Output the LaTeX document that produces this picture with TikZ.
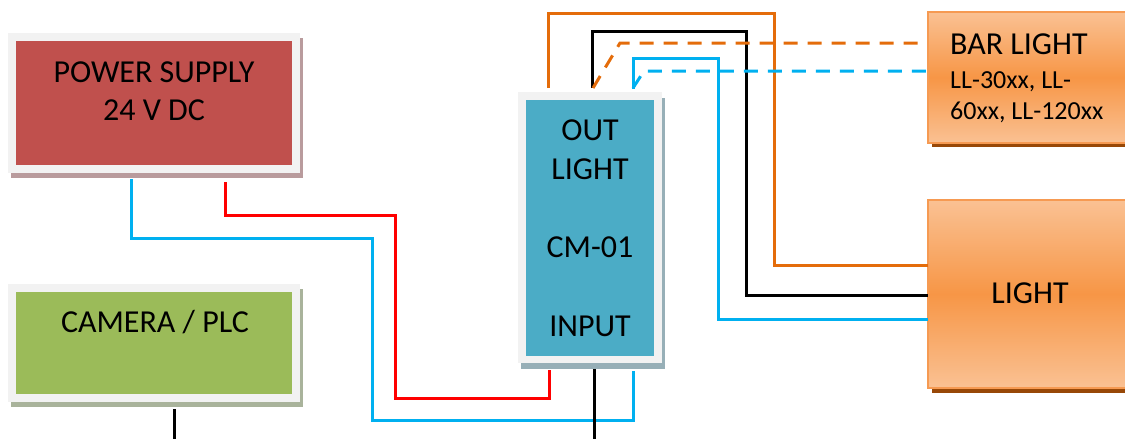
\documentclass[tikz,border=0pt]{standalone}
\usepackage{fontspec}
\setmainfont{Carlito}
\definecolor{psred}{HTML}{C0504D}
\definecolor{camgreen}{HTML}{9BBB59}
\definecolor{cmblue}{HTML}{4BACC6}
\definecolor{framegray}{HTML}{F2F2F2}
\definecolor{psshadowc}{HTML}{B99B9D}
\definecolor{camshadowc}{HTML}{A9B39B}
\definecolor{cmshadowc}{HTML}{97AFB7}
\definecolor{orshadow}{HTML}{984807}
\definecolor{orlight}{HTML}{FAC193}
\definecolor{ormid}{HTML}{F79646}
\definecolor{orborder}{HTML}{F69A52}
\definecolor{wireorange}{HTML}{E46C0A}
\definecolor{wireblue}{HTML}{00B0F0}
\definecolor{wirered}{HTML}{FF0000}
\begin{document}
\begin{tikzpicture}[x=1pt,y=-1pt,
  plain/.style={inner sep=0pt,outer sep=0pt,anchor=north west},
  framebox/.style={plain,fill=framegray},
  orbox/.style={plain,top color=orlight,bottom color=orlight,middle color=ormid,draw=orborder,line width=2pt},
  txt/.style={inner sep=0pt,anchor=base,font=\fontsize{32}{38}\selectfont},
  txtl/.style={inner sep=0pt,anchor=base west,font=\fontsize{32}{38}\selectfont},
  txts/.style={inner sep=0pt,anchor=base west,font=\fontsize{26}{31}\selectfont},
  wire/.style={line width=3pt},
  dwire/.style={line width=3pt,dash pattern=on 14pt off 10pt}]
\useasboundingbox (0,0) rectangle (1125,439);

% POWER SUPPLY
\node[plain,fill=psshadowc,minimum width=292pt,minimum height=140pt] (pssh) at (11,38) {};
\node[framebox,minimum width=292pt,minimum height=140pt] (ps) at (8,33) {};
\node[plain,fill=psred,minimum width=276pt,minimum height=124pt] (psin) at (16,41) {};
\node[txt] (pst1) at (154,82) {POWER SUPPLY};
\node[txt] (pst2) at (154,120) {24 V DC};

% CAMERA / PLC
\node[plain,fill=camshadowc,minimum width=292pt,minimum height=118pt] (camsh) at (11,289) {};
\node[framebox,minimum width=292pt,minimum height=118pt] (cam) at (8,284) {};
\node[plain,fill=camgreen,minimum width=276pt,minimum height=102pt] (camin) at (16,292) {};
\node[txt] (camt) at (155,332) {CAMERA / PLC};

% CM-01
\node[plain,fill=cmshadowc,minimum width=144pt,minimum height=271pt] (cmsh) at (521,98) {};
\node[framebox,minimum width=144pt,minimum height=271pt] (cm) at (518,92) {};
\node[plain,fill=cmblue,minimum width=128pt,minimum height=256pt] (cmin) at (526,100) {};
\node[txt] (cmt1) at (590,140) {OUT};
\node[txt] (cmt2) at (590,179) {LIGHT};
\node[txt] (cmt3) at (590,257) {CM-01};
\node[txt] (cmt4) at (590,336) {INPUT};

% BAR LIGHT
\node[plain,fill=orshadow,minimum width=215pt,minimum height=131pt] (barsh) at (932,16) {};
\node[orbox,minimum width=215pt,minimum height=131pt] (bar) at (928,12) {};
\node[txtl] (bart1) at (950,54) {BAR LIGHT};
\node[txts] (bart2) at (950,88) {LL-30xx, LL-};
\node[txts] (bart3) at (950,119) {60xx, LL-120xx};

% LIGHT
\node[plain,fill=orshadow,minimum width=215pt,minimum height=188pt] (lightsh) at (932,205) {};
\node[orbox,minimum width=215pt,minimum height=188pt] (light) at (928,200) {};
\node[txt] (lightt) at (1030,303) {LIGHT};

% connection points
\coordinate (psB) at ([xshift=-23pt,yshift=-6pt]ps.south);
\coordinate (psR) at ([xshift=71pt,yshift=-9pt]ps.south);
\coordinate (cmBl) at (633,371);
\coordinate (cmR) at (549,370);
\coordinate (cmO) at (548,88);
\coordinate (cmK) at (592,88);
\coordinate (cmBt) at (633,89);
\coordinate (cmOd) at (593,88);
\coordinate (cmBd) at (633,88);
\coordinate (barO) at (918,43);
\coordinate (barB) at (926,71);
\coordinate (camK) at (174,409);
\coordinate (camEnd) at (174,439);
\coordinate (cmKb) at (594,369);
\coordinate (cmEnd) at (594,439);

% wires
\draw[wire,wireblue] (psB) |- (372,238) |- (633,420) -- (cmBl);
\draw[wire,wirered] (psR) |- (395,215) |- (549,398) -- (cmR);
\draw[wire,wireorange] (cmO) |- (774,13) |- (light.west |- 0,265);
\draw[wire,black] (cmK) |- (746,31) |- (light.west |- 0,295);
\draw[wire,wireblue] (cmBt) |- (718,58) |- (light.west |- 0,319);
\draw[dwire,wireorange] (cmOd) -- (620,43) -- (barO);
\draw[dwire,wireblue] (cmBd) -- (644,71) -- (barB);
\draw[wire,black] (camK) -- (camEnd);
\draw[wire,black] (cmKb) -- (cmEnd);
\end{tikzpicture}
\end{document}
